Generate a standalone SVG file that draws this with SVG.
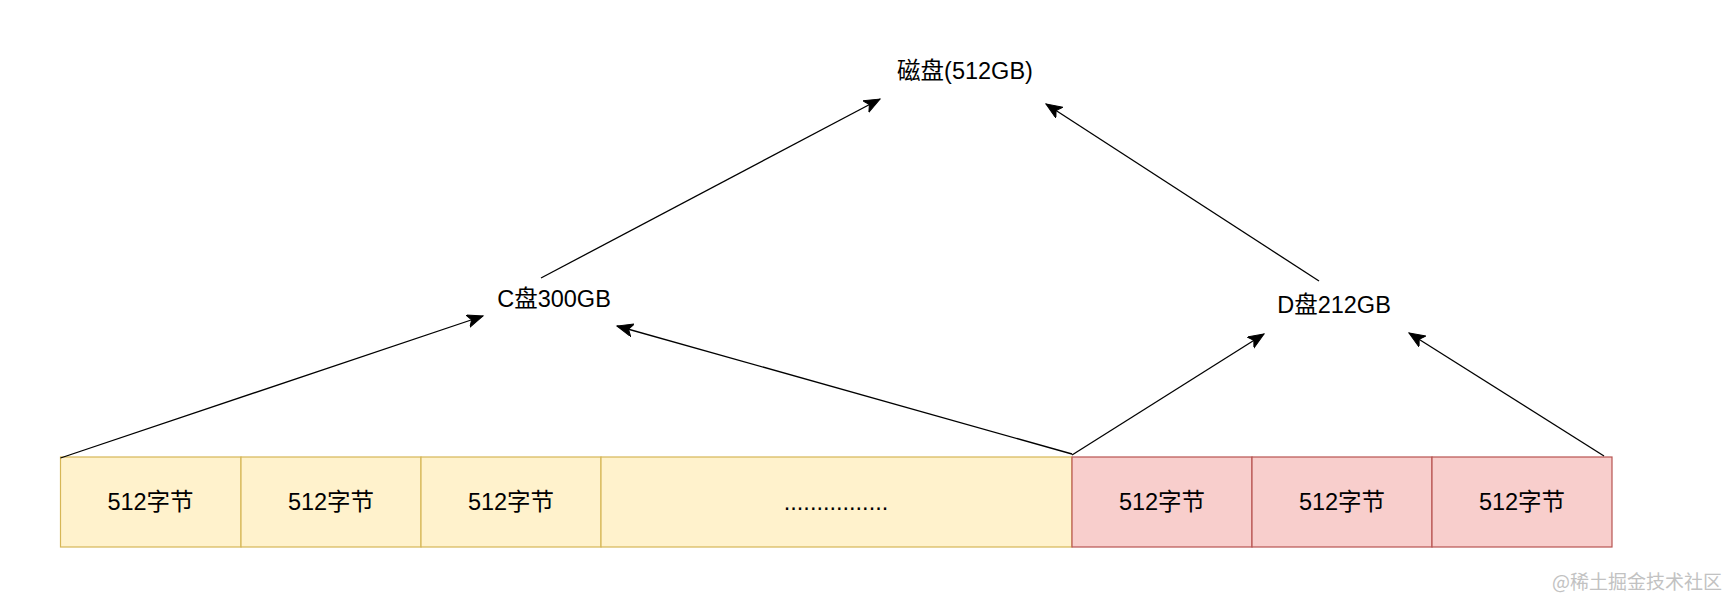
<svg xmlns="http://www.w3.org/2000/svg" width="1729" height="596" viewBox="0 0 1729 596">
<style>
.lbl{font-family:"Liberation Sans","Noto Sans CJK SC",Arial,sans-serif;font-size:23.5px;fill:#000;text-anchor:middle;dominant-baseline:central}
.y{fill:#fff2cc;stroke:#d6b656;stroke-width:1.2}
.r{fill:#f8cecc;stroke:#b85450;stroke-width:1.2}
.e{stroke:#000;stroke-width:1.3;fill:none;marker-end:url(#arr)}
.wm{font-family:"Noto Sans CJK SC","Liberation Sans",sans-serif;font-size:19px;fill:#c2c2c2;text-anchor:end}
</style>
<defs>
<marker id="arr" markerUnits="userSpaceOnUse" markerWidth="18" markerHeight="14" refX="16" refY="6.5" orient="auto">
<path d="M0,0 L16,6.5 L0,13 L4,6.5 Z" fill="#000" stroke="#000" stroke-width="1"/>
</marker>
</defs>
<rect width="1729" height="596" fill="#fff"/>
<g id="disk"><text class="lbl" x="965" y="71">磁盘(512GB)</text></g>
<g id="cdrive"><text class="lbl" x="554" y="299">C盘300GB</text></g>
<g id="ddrive"><text class="lbl" x="1334" y="305">D盘212GB</text></g>
<g id="c1"><rect class="y" x="60.5" y="457" width="180.5" height="90"/><text class="lbl" x="150.5" y="502">512字节</text></g>
<g id="c2"><rect class="y" x="241" y="457" width="180" height="90"/><text class="lbl" x="331" y="502">512字节</text></g>
<g id="c3"><rect class="y" x="421" y="457" width="180" height="90"/><text class="lbl" x="511" y="502">512字节</text></g>
<g id="c4"><rect class="y" x="601" y="457" width="471" height="90"/><text class="lbl" x="836" y="502">................</text></g>
<g id="d1"><rect class="r" x="1072" y="457" width="180" height="90"/><text class="lbl" x="1162" y="502">512字节</text></g>
<g id="d2"><rect class="r" x="1252" y="457" width="180" height="90"/><text class="lbl" x="1342" y="502">512字节</text></g>
<g id="d3"><rect class="r" x="1432" y="457" width="180" height="90"/><text class="lbl" x="1522" y="502">512字节</text></g>
<g id="connectors">
<line class="e" x1="541" y1="278" x2="880" y2="99"/>
<line class="e" x1="1319" y1="281" x2="1046" y2="104"/>
<line class="e" x1="60.5" y1="458" x2="483" y2="316"/>
<line class="e" x1="1072" y1="454" x2="617" y2="326"/>
<line class="e" x1="1072" y1="455" x2="1264" y2="334"/>
<line class="e" x1="1604" y1="456" x2="1409" y2="333"/>
</g>
<text class="wm" x="1722" y="589">@稀土掘金技术社区</text>
</svg>
